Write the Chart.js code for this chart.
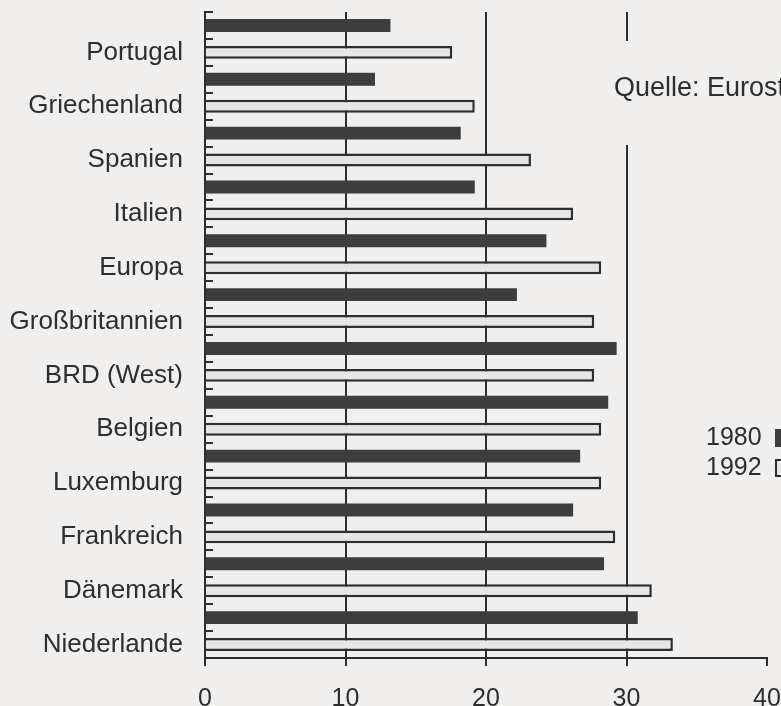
<!DOCTYPE html>
<html>
<head>
<meta charset="utf-8">
<script src="https://cdn.jsdelivr.net/npm/chart.js@4.4.0/dist/chart.umd.min.js"></script>
<style>
  html, body { margin: 0; padding: 0; background: #f0efee; }
  #wrap { width: 781px; height: 706px; }
</style>
</head>
<body>
<div id="wrap"><canvas id="chart" width="781" height="706"></canvas></div>
<script>
// countries, top to bottom
const countries = ['Portugal', 'Griechenland', 'Spanien', 'Italien', 'Europa', 'Großbritannien',
  'BRD (West)', 'Belgien', 'Luxemburg', 'Frankreich', 'Dänemark', 'Niederlande'];
const values1980 = [13.2, 12.1, 18.2, 19.2, 24.3, 22.2, 29.3, 28.7, 26.7, 26.2, 28.4, 30.8];
const values1992 = [17.6, 19.2, 23.2, 26.2, 28.2, 27.7, 27.7, 28.2, 28.2, 29.2, 31.8, 33.3];
const xTicks = [0, 10, 20, 30, 40];
const seriesNames = ['1980', '1992'];
const sourceNote = 'Quelle: Eurostat';

const INK = '#2e2e2e';
const DARK = '#3d3d3d';
const LIGHT = '#e6e6e4';
const PAPER = '#f0efee';
const FONT = '"Liberation Sans", Arial, sans-serif';

// each country gets two rows: 1980 bar on top, 1992 bar (with the label) below
const rowLabels = countries.flatMap(c => ['', c]);
const rows1980 = values1980.flatMap(v => [v, null]);
const rows1992 = values1992.flatMap(v => [null, v]);

const overlay = {
  id: 'overlay',
  beforeDraw(chart) {
    const { ctx, width, height } = chart;
    ctx.save();
    ctx.fillStyle = PAPER;
    ctx.fillRect(0, 0, width, height);
    ctx.restore();
  },
  afterDraw(chart) {
    const { ctx, scales: { x, y } } = chart;
    ctx.save();

    // short inner ticks on the y axis between the rows
    ctx.strokeStyle = INK;
    ctx.lineWidth = 2;
    for (let i = 0; i <= rowLabels.length; i++) {
      const py = Math.round(y.getPixelForValue(i - 0.5));
      ctx.beginPath();
      ctx.moveTo(x.left, py);
      ctx.lineTo(x.left + 8, py);
      ctx.stroke();
    }

    // source note, breaking the 30 gridline
    ctx.fillStyle = PAPER;
    ctx.fillRect(600, 41, 181, 104);
    ctx.fillStyle = INK;
    ctx.font = '27px ' + FONT;
    ctx.textBaseline = 'middle';
    ctx.textAlign = 'left';
    ctx.fillText(sourceNote, 614, 89);

    // legend: label then swatch
    ctx.font = '25px ' + FONT;
    const ds = chart.data.datasets;
    ds.forEach((d, i) => {
      const ty = 438 + i * 30;
      ctx.fillStyle = INK;
      ctx.fillText(d.label, 706, ty);
      const sx = 775;
      ctx.fillStyle = d.backgroundColor;
      ctx.fillRect(sx, ty - 9, 16, 18);
      if (d.borderWidth) {
        ctx.strokeStyle = d.borderColor;
        ctx.lineWidth = 2;
        ctx.strokeRect(sx + 1, ty - 8, 16, 16);
      }
    });
    ctx.restore();
  }
};

new Chart(document.getElementById('chart'), {
  type: 'bar',
  data: {
    labels: rowLabels,
    datasets: [
      {
        label: seriesNames[0],
        data: rows1980,
        backgroundColor: DARK,
        borderWidth: 0,
        grouped: false
      },
      {
        label: seriesNames[1],
        data: rows1992,
        backgroundColor: LIGHT,
        borderColor: INK,
        borderWidth: 2.5,
        borderSkipped: 'start',
        grouped: false
      }
    ]
  },
  options: {
    indexAxis: 'y',
    responsive: false,
    animation: false,
    devicePixelRatio: 1,
    layout: { padding: { top: 12, right: 14, bottom: 0, left: 0 } },
    datasets: { bar: { categoryPercentage: 1.0, barPercentage: 0.48 } },
    plugins: {
      legend: { display: false },
      tooltip: { enabled: false }
    },
    scales: {
      x: {
        min: xTicks[0],
        max: xTicks[xTicks.length - 1],
        afterBuildTicks: s => { s.ticks = xTicks.map(v => ({ value: v })); },
        afterFit: s => { s.height = 48; s.paddingLeft = 0; s.paddingRight = 0; },
        grid: {
          color: c => (c.tick && c.tick.value === 40 ? 'rgba(0,0,0,0)' : INK),
          lineWidth: 2,
          tickColor: INK,
          tickLength: 8
        },
        border: { color: INK, width: 2 },
        ticks: {
          color: INK,
          padding: 18,
          font: { family: FONT, size: 25 }
        }
      },
      y: {
        offset: true,
        grid: { display: false, drawTicks: false },
        border: { color: INK, width: 2 },
        afterFit: s => { s.width = 205; s.paddingTop = 0; s.paddingBottom = 0; },
        ticks: {
          color: INK,
          padding: 22,
          autoSkip: false,
          font: { family: FONT, size: 26 }
        }
      }
    }
  },
  plugins: [overlay]
});
</script>
</body>
</html>
